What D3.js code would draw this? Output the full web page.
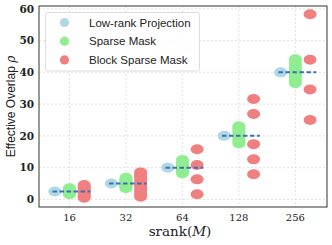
<!DOCTYPE html>
<html>
<head>
<meta charset="utf-8">
<script src="https://cdn.jsdelivr.net/npm/d3@7"></script>
<style>
  body { margin: 0; background: #fff; }
  svg { display: block; }
</style>
</head>
<body>
<svg class="canvas"></svg>
<script>
const width = 332;
const height = 245;

// data
const ranks = ["16", "32", "64", "128", "256"];
const lowRank = [2.5, 5, 10, 20, 40];
const sparseMask = [
	[1.6, 1.9, 2.1, 2.4, 2.6, 2.8, 3.1, 3.3, 3.5],
	[3.5, 3.9, 4.3, 4.7, 5.1, 5.5, 5.9, 6.3, 6.8],
	[8.2, 8.7, 9.2, 9.7, 10.3, 10.8, 11.4, 11.9, 12.4],
	[17.6, 18.2, 18.9, 19.6, 20.3, 21.0, 21.7, 22.4, 23.0],
	[36.6, 37.5, 38.5, 39.4, 40.4, 41.3, 42.3, 43.2, 44.1]
];
const blockSparse = [
	[0.5, 1.0, 1.5, 2.0, 2.5, 3.0, 3.5, 4.0, 4.5],
	[0.8, 1.5, 2.3, 3.1, 3.9, 4.6, 5.4, 6.2, 7.0, 7.7, 8.5],
	[1.6, 6.3, 10.8, 15.8],
	[7.9, 12.6, 17.4, 26.9, 31.6],
	[25.0, 34.6, 44.0, 58.3]
];
const yTicks = [0, 10, 20, 30, 40, 50, 60];
const seriesNames = ["Low-rank Projection", "Sparse Mask", "Block Sparse Mask"];
const seriesColors = ["#add8e6", "#90ee90", "#f08080"];

const mLeft = 39, mRight = 327, mTop = 6, mBottom = 207;

const svg = d3.select(".canvas")
	.attr("width", width)
	.attr("height", height);

const x = d3.scaleLinear().domain([-0.54, 4.56]).range([mLeft, mRight]);
const y = d3.scaleLinear().domain([-2.4, 60.9]).range([mBottom, mTop]);

//grid
svg.append("g")
	.selectAll("line")
	.data(yTicks)
	.join("line")
	.attr("x1", mLeft).attr("x2", mRight)
	.attr("y1", d => y(d)).attr("y2", d => y(d))
	.attr("stroke", "#d9d9d9")
	.attr("stroke-width", 0.8)
	.attr("stroke-dasharray", "2,2");

svg.append("g")
	.selectAll("line")
	.data(ranks)
	.join("line")
	.attr("x1", (d, i) => x(i)).attr("x2", (d, i) => x(i))
	.attr("y1", mTop).attr("y2", mBottom)
	.attr("stroke", "#d9d9d9")
	.attr("stroke-width", 0.8)
	.attr("stroke-dasharray", "2,2");

const off = 0.26;
const rx = 6.5, ry = 5;

// points
const pts = [];
lowRank.forEach((v, i) => pts.push({ s: 0, i: i, v: v }));
sparseMask.forEach((arr, i) => arr.forEach(v => pts.push({ s: 1, i: i, v: v })));
blockSparse.forEach((arr, i) => arr.forEach(v => pts.push({ s: 2, i: i, v: v })));

svg.append("g")
	.selectAll("ellipse")
	.data(pts)
	.join("ellipse")
	.attr("cx", d => x(d.i + (d.s - 1) * off))
	.attr("cy", d => y(d.v))
	.attr("rx", rx)
	.attr("ry", ry)
	.attr("fill", d => seriesColors[d.s]);

// dashed reference line
svg.append("g")
	.selectAll("line")
	.data(lowRank)
	.join("line")
	.attr("x1", (d, i) => x(i - 0.3))
	.attr("x2", (d, i) => x(i + 0.37))
	.attr("y1", d => y(d)).attr("y2", d => y(d))
	.attr("stroke", "#3d6fb4")
	.attr("stroke-width", 2)
	.attr("stroke-dasharray", "4.5,2.5");

// frame
svg.append("rect")
	.attr("x", mLeft).attr("y", mTop)
	.attr("width", mRight - mLeft).attr("height", mBottom - mTop)
	.attr("fill", "none")
	.attr("stroke", "#333")
	.attr("stroke-width", 1);

// tick labels
svg.append("g")
	.selectAll("text")
	.data(yTicks)
	.join("text")
	.attr("x", mLeft - 5)
	.attr("y", d => y(d))
	.attr("dy", "0.36em")
	.attr("text-anchor", "end")
	.style("font-family", "DejaVu Serif")
	.style("font-size", "10.5px")
	.style("font-weight", "bold")
	.attr("fill", "#222")
	.text(d => d);

svg.append("g")
	.selectAll("text")
	.data(ranks)
	.join("text")
	.attr("x", (d, i) => x(i))
	.attr("y", 221)
	.attr("text-anchor", "middle")
	.style("font-family", "DejaVu Serif")
	.style("font-size", "10px")
	.attr("fill", "#222")
	.text(d => d);

// axis titles
const xt = svg.append("text")
	.attr("x", 180)
	.attr("y", 236)
	.attr("text-anchor", "middle")
	.style("font-family", "DejaVu Serif")
	.style("font-size", "13.5px")
	.attr("fill", "#222");
xt.append("tspan").text("srank(");
xt.append("tspan").style("font-style", "italic").text("M");
xt.append("tspan").text(")");

const yt = svg.append("text")
	.attr("transform", `translate(14.5, ${(mTop + mBottom) / 2}) rotate(-90)`)
	.attr("text-anchor", "middle")
	.style("font-family", "Liberation Sans")
	.style("font-size", "12px")
	.attr("fill", "#222");
yt.append("tspan").text("Effective Overlap ");
yt.append("tspan").style("font-family", "DejaVu Serif").style("font-style", "italic").text("ρ");

//legend
const legend = svg.append("g");
legend.append("rect")
	.attr("x", 45.5).attr("y", 12.5)
	.attr("width", 154).attr("height", 58.5)
	.attr("rx", 2)
	.attr("fill", "#fff")
	.attr("fill-opacity", 0.8)
	.attr("stroke", "#ddd");

seriesNames.forEach((name, k) => {
	legend.append("circle")
		.attr("cx", 64.5)
		.attr("cy", 22.5 + k * 18.7)
		.attr("r", 4.6)
		.attr("fill", seriesColors[k]);
	legend.append("text")
		.attr("x", 89)
		.attr("y", 22.5 + k * 18.7)
		.attr("dy", "0.35em")
		.style("font-family", "Liberation Sans")
		.style("font-size", "11.5px")
		.attr("fill", "#222")
		.text(name);
});
</script>
</body>
</html>
